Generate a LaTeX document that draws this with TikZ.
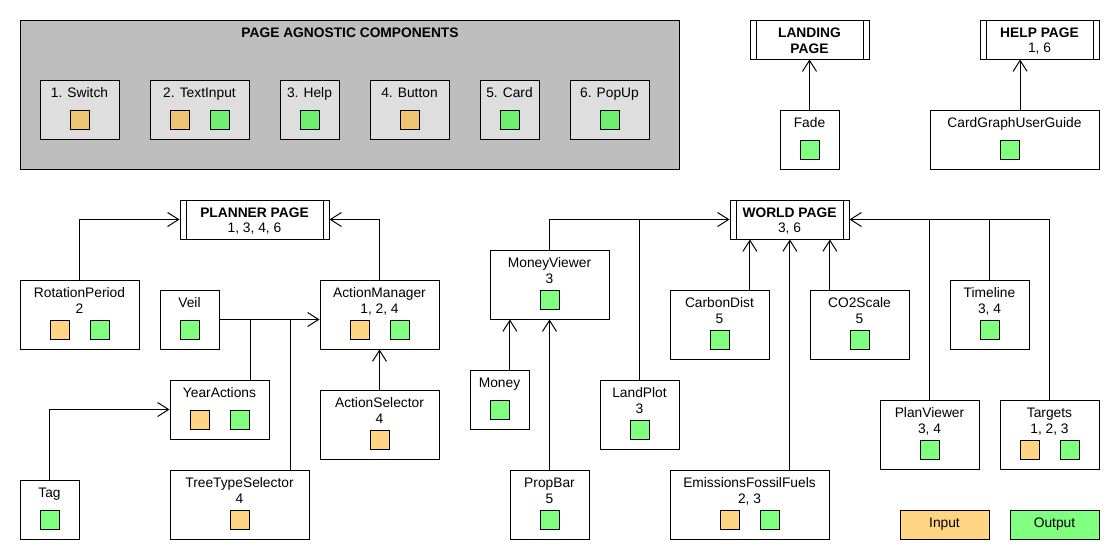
\documentclass[tikz,border=0pt]{standalone}
\usepackage{fontspec}
\setmainfont{Liberation Sans}
\usetikzlibrary{arrows.meta,fit}
\definecolor{inorange}{RGB}{255,213,131}
\definecolor{outgreen}{RGB}{128,255,128}
\definecolor{aginorange}{RGB}{239,197,115}
\definecolor{agoutgreen}{RGB}{112,238,112}
\definecolor{aggray}{RGB}{190,190,190}
\definecolor{agbox}{RGB}{222,222,222}

\tikzset{
  box/.style={draw, fill=white, inner sep=0pt},
  pagebox/.style={box, path picture={
    \draw ([xshift=0.15cm]path picture bounding box.north west) -- ([xshift=0.15cm]path picture bounding box.south west)
          ([xshift=-0.15cm]path picture bounding box.north east) -- ([xshift=-0.15cm]path picture bounding box.south east);}},
  lbl/.style={anchor=north, align=center, inner sep=0pt},
  ctr/.style={align=center, inner sep=0pt},
  insq/.style={draw, fill=inorange, minimum size=4.75mm, inner sep=0pt},
  outsq/.style={insq, fill=outgreen},
  aginsq/.style={insq, fill=aginorange},
  agoutsq/.style={insq, fill=agoutgreen},
  arr/.style={-{Straight Barb[length=2.75mm,width=3.5mm]}}
}

\begin{document}
\begin{tikzpicture}[x=0.025cm, y=-0.025cm, line width=0.7pt, font=\fontsize{9.8}{11.3}\selectfont]
\useasboundingbox (0,0) rectangle (1120,560);

% page agnostic components
\node (agn) [box, fill=aggray, fit={(20,20) (679,169)}] {};
\node (agnT) at (350,33) [ctr] {\bfseries PAGE AGNOSTIC COMPONENTS};
\node (sw) [box, fill=agbox, fit={(40,80) (119,139)}] {};
\node (swT) at (79.5,87.5) [lbl] {1. Switch};
\node (swI) at (79.5,119.5) [aginsq] {};
\node (ti) [box, fill=agbox, fit={(150,80) (249,139)}] {};
\node (tiT) at (199.5,87.5) [lbl] {2. TextInput};
\node (tiI) at (179.5,119.5) [aginsq] {};
\node (tiO) at (219.5,119.5) [agoutsq] {};
\node (hp) [box, fill=agbox, fit={(280,80) (339,139)}] {};
\node (hpT) at (309.5,87.5) [lbl] {3. Help};
\node (hpO) at (309.5,119.5) [agoutsq] {};
\node (bt) [box, fill=agbox, fit={(370,80) (449,139)}] {};
\node (btT) at (409.5,87.5) [lbl] {4. Button};
\node (btI) at (409.5,119.5) [aginsq] {};
\node (cd) [box, fill=agbox, fit={(480,80) (539,139)}] {};
\node (cdT) at (509.5,87.5) [lbl] {5. Card};
\node (cdO) at (509.5,119.5) [agoutsq] {};
\node (pu) [box, fill=agbox, fit={(570,80) (649,139)}] {};
\node (puT) at (609.5,87.5) [lbl] {6. PopUp};
\node (puO) at (609.5,119.5) [agoutsq] {};

% landing and help pages
\node (landing) [pagebox, fit={(750,20) (869,59)}] {};
\node (landingT) at ([yshift=-0.04cm]landing.center) [ctr] {\bfseries LANDING\\\bfseries PAGE};
\node (fade) [box, fit={(780,110) (839,169)}] {};
\node (fadeT) at (809.5,117.5) [lbl] {Fade};
\node (fadeO) at (809.5,149.5) [outsq] {};
\node (help) [pagebox, fit={(980,20) (1099,59)}] {};
\node (helpT) at ([yshift=-0.04cm]help.center) [ctr] {\textbf{HELP PAGE}\\1, 6};
\node (guide) [box, fit={(930,110) (1099,169)}] {};
\node (guideT) at (1014.5,117.5) [lbl] {CardGraphUserGuide};
\node (guideO) at (1009.5,149.5) [outsq] {};

% planner page
\node (planner) [pagebox, fit={(180,200) (329,239)}] {};
\node (plannerT) at ([yshift=-0.04cm]planner.center) [ctr] {\textbf{PLANNER PAGE}\\1, 3, 4, 6};
\node (rot) [box, fit={(20,280) (139,349)}] {};
\node (rotT) at (79.5,287.5) [lbl] {RotationPeriod\\2};
\node (rotI) at (59.5,329.5) [insq] {};
\node (rotO) at (99.5,329.5) [outsq] {};
\node (veil) [box, fit={(160,290) (219,349)}] {};
\node (veilT) at (189.5,297.5) [lbl] {Veil};
\node (veilO) at (189.5,329.5) [outsq] {};
\node (am) [box, fit={(320,280) (439,349)}] {};
\node (amT) at (379.5,287.5) [lbl] {ActionManager\\1, 2, 4};
\node (amI) at (359.5,329.5) [insq] {};
\node (amO) at (399.5,329.5) [outsq] {};
\node (ya) [box, fit={(170,380) (269,439)}] {};
\node (yaT) at (219.5,387.5) [lbl] {YearActions};
\node (yaI) at (199.5,419.5) [insq] {};
\node (yaO) at (239.5,419.5) [outsq] {};
\node (as) [box, fit={(320,390) (439,459)}] {};
\node (asT) at (379.5,397.5) [lbl] {ActionSelector\\4};
\node (asI) at (379.5,439.5) [insq] {};
\node (tag) [box, fit={(20,480) (79,539)}] {};
\node (tagT) at (49.5,487.5) [lbl] {Tag};
\node (tagO) at (49.5,519.5) [outsq] {};
\node (tts) [box, fit={(170,470) (309,539)}] {};
\node (ttsT) at (239.5,477.5) [lbl] {TreeTypeSelector\\4};
\node (ttsI) at (239.5,519.5) [insq] {};

% world page
\node (world) [pagebox, fit={(730,200) (849,239)}] {};
\node (worldT) at ([yshift=-0.04cm]world.center) [ctr] {\textbf{WORLD PAGE}\\3, 6};
\node (mv) [box, fit={(490,250) (609,319)}] {};
\node (mvT) at (549.5,257.5) [lbl] {MoneyViewer\\3};
\node (mvO) at (549.5,299.5) [outsq] {};
\node (money) [box, fit={(470,370) (529,429)}] {};
\node (moneyT) at (499.5,377.5) [lbl] {Money};
\node (moneyO) at (499.5,409.5) [outsq] {};
\node (pb) [box, fit={(510,470) (589,539)}] {};
\node (pbT) at (549.5,477.5) [lbl] {PropBar\\5};
\node (pbO) at (549.5,519.5) [outsq] {};
\node (lp) [box, fit={(600,380) (679,449)}] {};
\node (lpT) at (639.5,387.5) [lbl] {LandPlot\\3};
\node (lpO) at (639.5,429.5) [outsq] {};
\node (cdist) [box, fit={(670,290) (769,359)}] {};
\node (cdistT) at (719.5,297.5) [lbl] {CarbonDist\\5};
\node (cdistO) at (719.5,339.5) [outsq] {};
\node (co2) [box, fit={(810,290) (909,359)}] {};
\node (co2T) at (859.5,297.5) [lbl] {CO2Scale\\5};
\node (co2O) at (859.5,339.5) [outsq] {};
\node (eff) [box, fit={(670,470) (829,539)}] {};
\node (effT) at (749.5,477.5) [lbl] {EmissionsFossilFuels\\2, 3};
\node (effI) at (729.5,519.5) [insq] {};
\node (effO) at (769.5,519.5) [outsq] {};
\node (tl) [box, fit={(950,280) (1029,349)}] {};
\node (tlT) at (989.5,287.5) [lbl] {Timeline\\3, 4};
\node (tlO) at (989.5,329.5) [outsq] {};
\node (pv) [box, fit={(880,400) (979,469)}] {};
\node (pvT) at (929.5,407.5) [lbl] {PlanViewer\\3, 4};
\node (pvO) at (929.5,449.5) [outsq] {};
\node (tg) [box, fit={(1000,400) (1099,469)}] {};
\node (tgT) at (1049.5,407.5) [lbl] {Targets\\1, 2, 3};
\node (tgI) at (1029.5,449.5) [insq] {};
\node (tgO) at (1069.5,449.5) [outsq] {};

% legend
\node (legI) [box, fill=inorange, fit={(900,510) (989,539)}] {};
\node (legIT) at (legI.center) [ctr] {Input};
\node (legO) [box, fill=outgreen, fit={(1010,510) (1099,539)}] {};
\node (legOT) at (legO.center) [ctr] {Output};

% connectors
\draw[arr] (fade.north) -- (fade.north |- landing.south);
\draw[arr] ([xshift=1.4mm]guide.north) -- ([xshift=1.4mm]guide.north |- help.south);
\draw[arr] (rot.north) |- (planner.west);
\draw[arr] (am.north) |- (planner.east);
\draw[arr] (veil.east) -- (veil.east -| am.west);
\coordinate (yaj) at (250,320);
\coordinate (ttsj) at (290,320);
\draw (ya.north -| yaj) -- (yaj);
\draw (tts.north -| ttsj) -- (ttsj);
\draw[arr] (tag.north) |- (ya.west);
\draw[arr] (as.north) -- (am.south);
\draw[arr] (mv.north) |- (world.west);
\draw (lp.north) -- (lp.north |- world.west);
\draw[arr] ([xshift=2.6mm]money.north) -- ([xshift=2.6mm]money.north |- mv.south);
\draw[arr] (pb.north) -- (mv.south);
\draw[arr] ([xshift=7.6mm]cdist.north) -- ([xshift=7.6mm]cdist.north |- world.south);
\draw[arr] ([xshift=-7.4mm]co2.north) -- ([xshift=-7.4mm]co2.north |- world.south);
\draw[arr] ([xshift=10.1mm]eff.north) -- ([xshift=10.1mm]eff.north |- world.south);
\draw[arr] (tg.north) |- (world.east);
\draw (tl.north) -- (tl.north |- world.east);
\draw (pv.north) -- (pv.north |- world.east);
\end{tikzpicture}
\end{document}
